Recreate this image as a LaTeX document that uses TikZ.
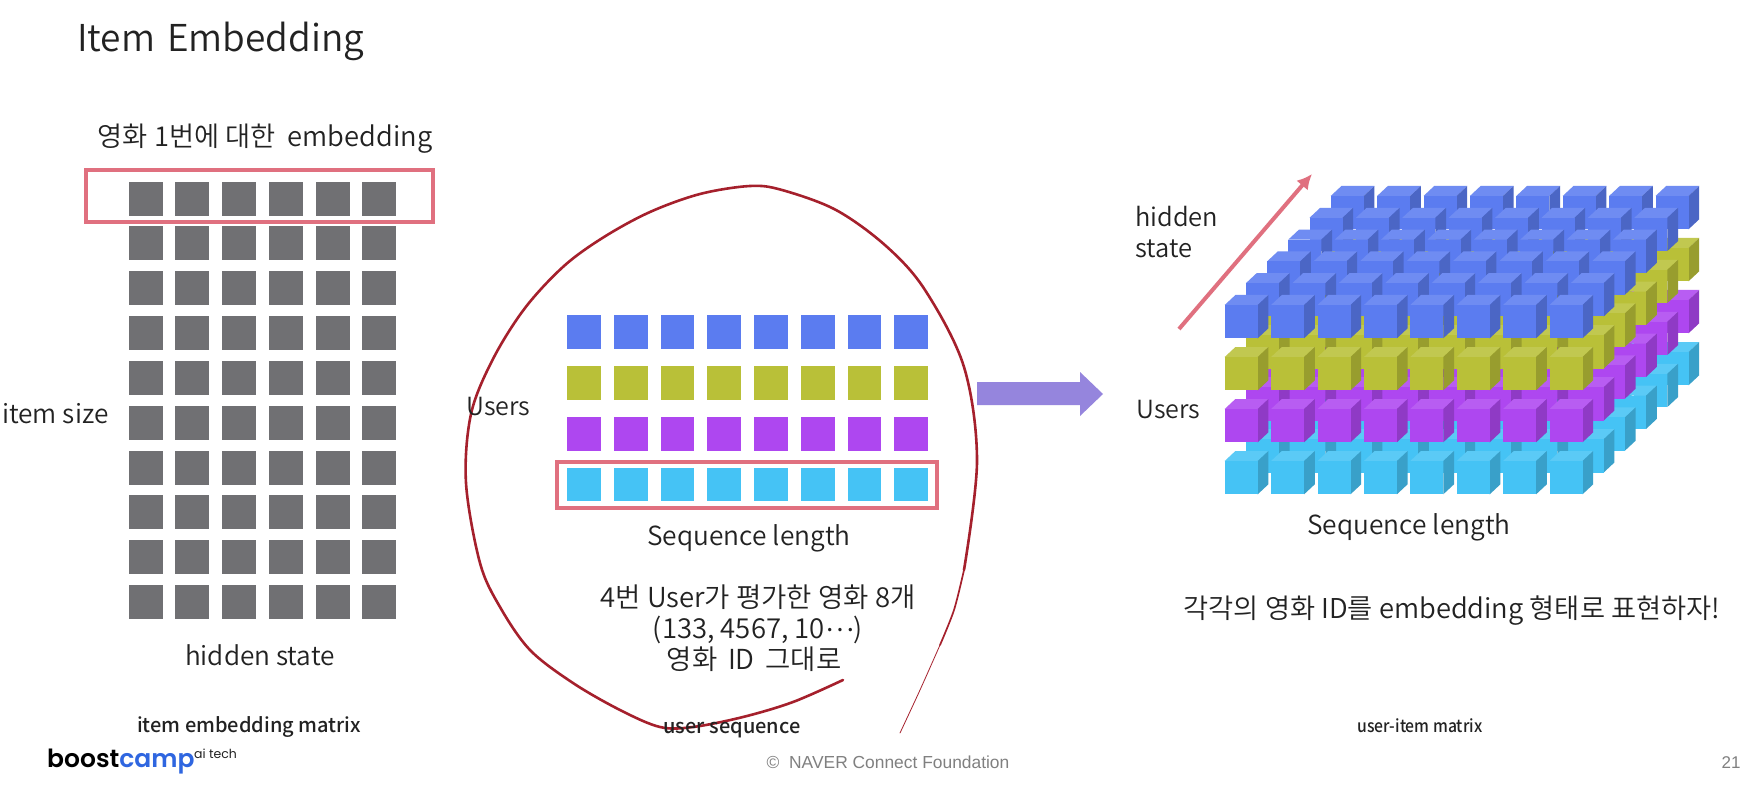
\documentclass[tikz,border=0pt]{standalone}
\usepackage{fontspec}
\usepackage{graphicx}
\usetikzlibrary{arrows.meta}
\setmainfont{Noto Sans CJK KR DemiLight}[BoldFont={Noto Sans CJK KR Medium}]
\newfontfamily\logofont{Poppins}[BoldFont={* SemiBold}]
\newfontfamily\footfont{Liberation Sans}
\definecolor{cblue}{HTML}{5B7CF0}
\definecolor{colive}{HTML}{B9C038}
\definecolor{cpurple}{HTML}{AE47F0}
\definecolor{ccyan}{HTML}{45C3F5}
\definecolor{cgray}{HTML}{707073}
\definecolor{cframe}{HTML}{E0707F}
\definecolor{cink}{HTML}{222222}
\definecolor{cpen}{HTML}{A5202C}
\definecolor{carrow}{HTML}{9585DD}
\definecolor{logoblue}{HTML}{2F66E0}
\tikzset{
  label/.style={inner sep=0pt,align=center,text=cink,font=\fontsize{26.2}{30}\selectfont},
  caption/.style={inner sep=0pt,text=cink,font=\bfseries\fontsize{20}{22}\selectfont},
  frame/.style={draw=cframe,line width=3.2pt},
  pen/.style={draw=cpen,line width=2.6pt,line cap=round,line join=round},
}
\begin{document}
\begin{tikzpicture}[x=1pt,y=-1pt]
\useasboundingbox[fill=white] (0,0) rectangle (1759,786);
% item embedding matrix
\foreach \r in {0,...,9}\foreach \c in {0,...,5}
  \fill[cgray] ({128.7+46.7*\c},{181.7+44.8*\r}) rectangle +(34,34);
\draw[frame] (86,170) rectangle (433,222);
% user sequence
\foreach \r/\col in {0/cblue,1/colive,2/cpurple,3/ccyan}\foreach \c in {0,...,7}
  \fill[\col] ({567.3+46.7*\c},{315.3+50.8*\r}) rectangle +(33.7,33.7);
\draw[frame] (557,462) rectangle (937,508);
% pen stroke
\draw[pen] plot[smooth,tension=0.55] coordinates {(964,570)(977,461)(964,367)(925,290)(886,246)(836,210)(782,190)(750,186)(700,194)(650,212)(604,237)(564,266)(525,308)(493,359)(471,414)(466,483)(480,563)(500,607)(530,650)(573,683)(620,710)(660,727)(693,727)(743,717)(793,702)(843,680)};
\draw[cpen,line width=1.7pt,line cap=round] plot[smooth] coordinates {(964,570)(954,610)(940,645)};
\draw[cpen,line width=0.8pt,line cap=round] plot[smooth] coordinates {(940,645)(920,690)(900,733)};
% big arrow
\fill[carrow] (977,382) -- (1080,382) -- (1080,372) -- (1103,394) -- (1080,416) -- (1080,405) -- (977,405) -- cycle;
% cube stack
\foreach \lay/\col in {3/ccyan,2/cpurple,1/colive,0/cblue}
 \foreach \dep in {5,4,3,2,1,0}
  \foreach \c in {0,...,7}{
   \pgfmathsetmacro{\X}{1224.7+46.4*\c+21.2*\dep}
   \pgfmathsetmacro{\Y}{305+52*\lay-21.8*\dep}
   \fill[\col!88!white] (\X,\Y) -- ++(10.7,-10) -- ++(33,0) -- ++(-10.7,10) -- cycle;
   \fill[\col!82!black] (\X+33,\Y) -- ++(10.7,-10) -- ++(0,33.3) -- ++(-10.7,10) -- cycle;
   \fill[\col] (\X,\Y) rectangle +(33,33.3);
  }
% hidden-state arrow
\coordinate (hsa) at (1179,329);
\coordinate (hsb) at (1312,174);
\draw[cframe,line width=4pt,-{Latex[length=15pt,width=15pt]}] (hsa) -- (hsb);
% texts
\node[inner sep=0pt,anchor=base west,text=cink,font=\fontsize{37}{44}\selectfont] (title) at (77,52) {Item\hspace{0.32em}Embedding};
\node[label,font=\fontsize{27.3}{30}\selectfont] (t1) at (265,139) {영화 1번에 대한\ \ embedding};
\node[label,anchor=west] (t2) at (2,414) {item size};
\node[label] (t3) at (260,655) {hidden state};
\node[caption] (c1) at (249,727) {item embedding matrix};
\node[label,anchor=west,font=\fontsize{25}{30}\selectfont] (t4) at (466,407) {Users};
\node[label,font=\fontsize{26.3}{30}\selectfont] (t5) at (749,538) {Sequence length};
\node[label,font=\fontsize{27.5}{31}\selectfont] (t6) at (758,628) {4번 User가 평가한 영화 8개\\(133, 4567, 10\raisebox{0.25em}{⋯})\\영화\ \,ID\ \,그대로\hspace*{8pt}};
\node[caption] (c2) at (732,730) {user sequence};
\node[label,anchor=west,align=left,font=\fontsize{25.5}{30.5}\selectfont] (t7) at (1135,232) {hidden\\state};
\node[label,anchor=west,font=\fontsize{25}{30}\selectfont] (t8) at (1136,410) {Users};
\node[label,font=\fontsize{26.3}{30}\selectfont] (t9) at (1409,527) {Sequence length};
\node[label,font=\fontsize{27.3}{31}\selectfont] (t10) at (1452,611) {각각의 영화 ID를 embedding 형태로 표현하자!};
\node[caption,font=\bfseries\fontsize{17.5}{22}\selectfont] (c3) at (1420,726) {\scalebox{0.9}[1]{user-item matrix}};
\node[inner sep=0pt,anchor=west,font=\logofont\bfseries\fontsize{25}{28}\selectfont] (logo) at (47,762) {\textcolor{black}{boost}\textcolor{logoblue}{camp}};
\node[inner sep=0pt,anchor=west,text=cink,font=\logofont\fontsize{12.5}{14}\selectfont] (logo2) at (194,754) {ai tech};
\node[inner sep=0pt,text=gray,font=\footfont\fontsize{17.4}{18}\selectfont] (foot) at (888,762) {©\ \ NAVER Connect Foundation};
\node[inner sep=0pt,text=gray,font=\footfont\fontsize{17}{18}\selectfont] (page) at (1731,763) {21};
\end{tikzpicture}
\end{document}
